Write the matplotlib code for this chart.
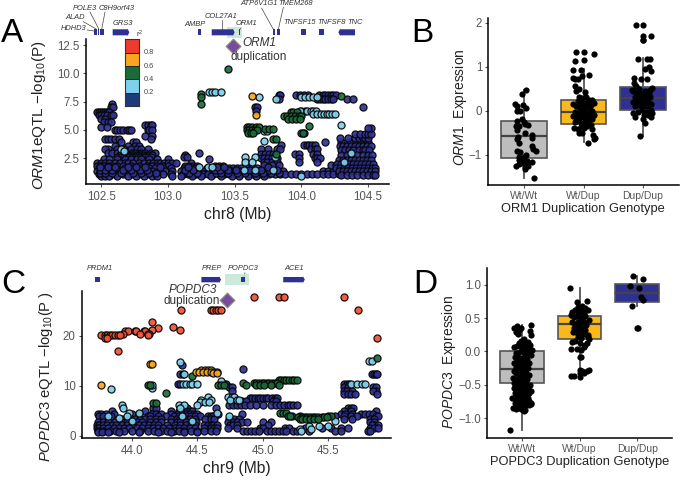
import matplotlib
matplotlib.use('Agg')
import matplotlib.pyplot as plt
from matplotlib.patches import FancyArrow, Rectangle

plt.rcParams['font.family'] = ['Liberation Sans', 'DejaVu Sans']
plt.rcParams['mathtext.fontset'] = 'custom'
plt.rcParams['mathtext.rm'] = 'Liberation Sans'
plt.rcParams['mathtext.it'] = 'Liberation Sans:italic'
plt.rcParams['mathtext.default'] = 'rm'

W, H = 685, 487
NAVY, LBLUE, GREEN, ORANGE, RED = '#2e3192', '#7fd0ec', '#1b6b38', '#f8a61f', '#ee3b2b'
GOLD, GREY = '#f9b91b', '#bdbdbd'
TICK = '#555555'

# ---------- Panel A data: {-log10P : [positions in Mb]} ----------
a_navy = {
 7.25:[102.58], 7.05:[102.57,102.59,103.65,103.67,104.46],
 6.55:[102.47,102.485,102.5,102.515,102.53,102.545,102.56],
 6.3:[102.48,102.5,102.52,102.54,102.57,102.59],
 5.95:[102.5,102.53], 5.7:[102.52,102.55,102.57], 5.25:[102.5,102.54],
 5.4:[102.83,102.85,102.87,102.88],
 5.0:[102.6,102.62,102.64,102.66,102.69,102.71,102.72,102.85,102.86,102.88],
 4.5:[102.83,102.88],
 4.2:[102.53,102.55,102.57,102.6,102.63,102.87],
 3.9:[102.65,102.74,102.76],
 3.61:[102.6,102.7,102.75,102.78],
 3.3:[102.55,102.62,102.67,102.72,102.77,102.8,102.85,102.53],
 3.0:[102.55,102.58,102.62,102.68,102.73,102.75,102.8,102.83,102.87,102.9,103.23],
 2.8:[102.64,102.66,102.68,102.7,102.72,102.74,102.76,102.78,102.8,102.82,102.84,102.86,102.88,103.13],
 2.6:[102.62,102.65,102.67,102.69,102.71,102.73,102.75,102.77,102.79,102.81,102.83,102.85,102.87,103.12,103.14],
 2.4:[102.52,102.56,102.62,102.68,102.72,102.77,102.8,102.86,102.92,103.0,103.31],
 2.1:[102.47,102.5,102.53,102.56,102.6,102.64,102.68,102.7,102.74,102.78,102.82,102.86,102.89,102.92,102.94,102.97,103.0,103.03,103.06,103.17],
 1.85:[102.47,102.49,102.52,102.55,102.58,102.62,102.66,102.72,102.78,102.84,102.88,102.92,102.96,103.0,103.13,103.16,103.19,103.22,103.35,103.38,103.41],
 1.6:[102.48,102.5,102.54,102.57,102.6,102.68,102.74,102.8,102.86,102.9,102.96,103.02,103.12,103.15,103.18,103.2,103.29,103.33,103.36,103.4,103.43,103.46,103.49,103.52,103.55,103.6,103.63,103.67,103.72],
 1.35:[102.47,102.5,102.52,102.55,102.59,102.63,102.7,102.76,102.82,102.88,102.93,102.98,103.03,103.1,103.14,103.17,103.2,103.24,103.27,103.3,103.33,103.37,103.41,103.44,103.47,103.5,103.54,103.58,103.62,103.66,103.7,103.74,103.78,103.82,103.86,104.16,104.2,104.24],
 1.1:[102.48,102.51,102.54,102.57,102.6,102.66,102.72,102.78,102.84,102.9,102.96,103.02,103.11,103.15,103.18,103.21,103.26,103.3,103.34,103.38,103.42,103.46,103.5,103.54,103.6,103.64,103.68,103.72,103.76,103.8,103.84,103.88,103.92,103.96,104.0,104.04,104.08,104.12,104.16,104.2,104.24,104.28],
 0.9:[102.5,102.53,102.56,102.62,102.7,102.76,102.82,102.88,102.92,103.03,103.1,103.18,103.25,103.32,103.4,103.48,103.53,103.6,103.66,103.72],
 8.05:[103.83,103.84,103.96,103.99,104.02,104.05,104.13,104.16,104.18,104.2,104.22,104.24,104.26],
 7.75:[103.83,104.34,104.39,104.12,104.14,104.16,104.18,104.2,104.22,104.24],
 6.7:[103.66,104.0,104.03],
 3.65:[104.02,104.04,104.06,104.08,104.1,103.85],
 3.31:[104.07,104.1,104.12,103.82,103.84,103.7,103.75],
 2.9:[103.7,103.73,103.76,103.79,104.09,104.12,103.95,103.98],
 2.5:[103.7,103.72,103.75,103.78,103.82,103.98,104.1,104.12,104.14],
 2.2:[103.72,103.74,103.78,103.82,103.98,104.12],
 1.9:[103.72,103.78,103.83,104.22,104.26,104.3],
 3.95:[104.18,104.3,104.36,104.42,104.45,104.5],
 4.3:[104.29,104.35,104.4,104.43,104.46,104.48,104.5],
 4.6:[104.4,104.44,104.48,104.5,104.52],
 5.2:[104.52,104.5],
 3.6:[104.29,104.31,104.34,104.37,104.4,104.43,104.46,104.49,104.52],
 3.2:[104.3,104.33,104.36,104.39,104.43,104.46,104.48,104.51],
 2.75:[104.3,104.34,104.38,104.42,104.46,104.5,104.53],
 2.35:[104.28,104.31,104.34,104.37,104.4,104.43,104.46,104.49,104.52],
 2.0:[104.27,104.3,104.33,104.36,104.39,104.42,104.45,104.48,104.51,104.54],
 1.65:[104.26,104.29,104.32,104.35,104.38,104.41,104.44,104.47,104.5,104.53,104.55],
 1.37:[104.28,104.31,104.34,104.37,104.4,104.43,104.46,104.49,104.52,104.55],
 1.05:[104.3,104.34,104.38,104.42,104.46,104.5,104.54,104.55],
 4.75:[104.0,104.02],
 1.22:[102.49,102.53,102.58,102.65,102.74,102.8,102.86,102.91,103.16,103.22,103.36,103.4,103.45,103.52,103.58,103.65,103.71,103.77,103.83],
 1.48:[102.49,102.53,102.58,102.66,102.72,102.79,102.84,103.13,103.19,103.35,103.39,103.45,103.51,103.61,103.7,103.76,103.82],
 1.72:[102.49,102.55,102.6,102.7,102.76,102.83,102.94,103.15,103.37,103.42,103.75],
}
a_lblue = {
 8.35:[103.31,103.33,103.35,103.4],
 7.95:[104.0,104.03,104.06,104.09,104.12,103.68],
 7.7:[103.81],
 6.7:[103.99,104.04,104.07,104.09,104.11],
 6.45:[104.09,104.12,104.15,104.17,104.19,104.21,104.23,104.25],
 5.4:[104.3],
 4.9:[103.72,103.74],
 4.0:[103.72],
 3.35:[102.65],
 2.6:[103.58,103.65,103.8],
 2.2:[103.58,103.63,104.32],
 1.75:[103.23,103.3,103.33],
 1.5:[103.57,103.65,103.79],
 0.9:[104.0],
 3.1:[102.67],
 2.95:[104.37],
}
a_green = {
 10.4:[103.45],
 8.2:[103.25], 7.9:[103.25], 7.3:[103.25],
 8.0:[104.3],
 6.6:[103.92,103.94,103.97],
 6.25:[103.87,103.89,103.92,103.95,103.98,104.0],
 6.0:[103.9,103.93,103.96,103.99],
 5.3:[103.59,103.61,103.63,103.66,103.68],
 5.0:[103.59,103.61,103.63,103.65,103.67],
 4.75:[103.6,103.62,103.64,104.01],
 5.31:[104.06],
 5.1:[103.73,103.76,103.79],
 4.2:[103.79,103.81],
 2.9:[103.81],
}
a_orange = {8.0:[103.63], 6.3:[103.66]}

# ---------- Panel C data ----------
c_navy = {
 14.2:[44.38], 13.4:[44.85], 12.3:[44.37,44.39,45.83,45.85,45.86,45.87],
 10.3:[44.35,44.37,44.68,44.7,44.72,45.62,45.64,45.66],
 9.7:[44.74,44.76,45.62,45.65,45.84,45.86],
 9.0:[44.76,45.62,45.64,45.68,45.86,45.84],
 8.4:[45.62,45.65,45.67,45.7,45.87],
 7.5:[44.9,44.92,44.94,44.96,44.98,45.0,45.02,45.04,45.07,45.09,45.11],
 7.0:[44.78,44.84,44.87,45.08,45.1],
 6.2:[44.74,44.77,44.8,44.83,44.86,44.9,44.95,45.0,45.06,45.1,45.13,45.16,45.19,45.21,45.23,45.26],
 5.5:[44.16,44.18,44.42,44.64,45.65,45.67,45.69],
 5.0:[43.85,44.1,44.3,44.36,44.4,44.42,44.44,44.46,45.62,45.67,45.86],
 4.4:[43.74,43.76,43.8,43.86,44.0,44.05,44.15,44.18,44.22,44.3,44.35,44.38,44.41,44.44,44.47,44.5,44.65,44.66,44.84,45.6,45.63,45.68,45.75,45.78,45.81,45.84],
 3.9:[43.75,43.78,43.84,44.12,44.14,44.2,44.26,44.32,44.36,44.39,44.42,44.45,44.48,44.52,44.58,44.6,44.62,45.22,45.28,45.55,45.62,45.67,45.72,45.86,45.88],
 3.3:[43.92,43.98,44.02,44.06,44.1,44.14,44.18,44.22,44.3,44.34,44.37,44.4,44.44,44.48,44.56,44.6,44.63,44.74,44.78,44.82,45.62,45.68,45.82,45.85],
 2.7:[43.74,43.78,43.82,43.87,43.92,43.96,44.0,44.04,44.08,44.14,44.18,44.22,44.3,44.34,44.37,44.41,44.45,44.49,44.73,44.77,44.8,44.84,44.88,45.0,45.06,45.82,45.85],
 2.1:[43.73,43.75,43.78,43.81,43.85,43.88,43.92,43.96,44.0,44.05,44.09,44.13,44.17,44.2,44.27,44.33,44.37,44.41,44.45,44.48,44.55,44.58,44.6,44.62,44.65,44.75,44.77,44.8,45.04,45.85,45.88,45.83],
 1.5:[43.73,43.75,43.78,43.82,43.86,43.9,43.94,43.98,44.04,44.08,44.12,44.16,44.2,44.24,44.28,44.33,44.36,44.4,44.44,44.48,44.55,44.6,44.63,44.65,44.73,44.8,44.98,45.0,45.17,45.2,45.32,45.45,45.52,45.6,45.65,45.82,45.85,45.88],
 1.0:[43.74,43.78,43.83,43.88,43.94,44.0,44.06,44.12,44.17,44.22,44.27,44.32,44.36,44.4,44.45,44.5,44.55,44.6,44.64,44.85,44.88,44.91,44.94,44.97,45.03,45.06,45.09,45.12,45.15,45.18,45.23,45.26,45.35,45.55,45.6,45.8,45.82],
 0.7:[43.74,43.77,43.82,43.9,44.05,44.2,44.3,44.4,44.5],
}
c_lblue = {
 14.8:[44.365], 14.9:[45.81,45.83],
 9.4:[43.84], 9.6:[44.15], 10.2:[44.15],
 10.4:[44.39,44.41,44.44,44.46,44.5,45.67,45.72,45.76,45.78],
 11.0:[44.68],
 12.3:[44.4],
 7.7:[44.58,44.73,44.76,44.78],
 7.2:[44.53,44.6,44.75,44.8,44.82],
 6.7:[44.52,44.56,44.59],
 6.2:[43.92,44.36,44.4,44.5],
 5.6:[43.93,44.37],
 4.6:[44.65,43.98,44.05],
 4.0:[43.82,43.96,44.74,44.38],
 3.5:[43.9],
 3.0:[44.0,44.46,45.55],
 2.0:[45.35,45.43,45.5],
 1.3:[45.28,45.37],
 0.9:[45.29],
}
c_green = {
 15.5:[45.87], 12.0:[44.46], 10.1:[44.12,44.14,44.66,44.68,44.7],
 8.6:[44.26], 6.5:[44.16,44.18],
 11.2:[45.12,45.14,45.16,45.18,45.2,45.22,45.24,45.26],
 10.6:[44.85,44.93,44.95,44.97,44.99,45.01,45.03,45.05,45.07,45.09,45.11],
 10.2:[44.87,44.95,44.98,45.01,45.06,45.12],
 4.5:[45.13,45.15,45.18],
 4.0:[45.19,45.21,45.5,45.52],
 3.7:[45.27,45.3,45.32,45.34,45.36,45.38,45.4,45.42,45.45,45.47,45.49],
 3.4:[45.28,45.3,45.33,45.36,45.39,45.42],
}
c_orange = {
 10.2:[43.76], 14.3:[44.14,44.15],
 13.1:[44.53,44.56,44.58,44.6],
 12.8:[44.49,44.51,44.54,44.57,44.6,44.63,44.65],
 12.6:[44.62,44.65],
}
c_red = {
 27.7:[44.93,45.12,45.16,45.62],
 25.2:[44.375,44.6,44.62,44.64,44.66,44.68,45.73],
 22.7:[44.15], 21.8:[44.31], 21.6:[44.2], 21.2:[44.37,44.15],
 20.9:[43.95,43.97,44.02,44.03,44.09,44.1],
 20.4:[43.93,44.06,44.12,44.13],
 20.2:[43.76,43.79,43.81,43.83,43.85,43.87,43.89,43.91,44.12],
 19.6:[43.79,43.81,45.87],
 16.9:[43.89],
}

# ---------- Boxplot data ----------
b_stats = [(-1.53,-1.08,-0.57,-0.23,0.48),(-0.72,-0.30,-0.04,0.24,0.95),(-0.57,0.01,0.28,0.53,1.20)]
d_stats = [(-1.18,-0.48,-0.26,0.01,0.40),(-0.38,0.19,0.42,0.54,0.95),(0.68,0.75,0.88,1.02,1.14)]
box_cats = ['Wt/Wt','Wt/Dup','Dup/Dup']
box_fill = [GREY, GOLD, NAVY]

b1_x=[0.97,1.03,0.85,0.88,0.98,1.03,0.89,0.94,1.0,0.88,0.96,1.02,1.06,0.87,0.92,0.89,1.02,1.13,1.14,0.9,0.88,0.91,1.13,1.15,0.93,0.89,1.2,0.92,1.0,1.03,0.99,0.92,1.05,1.03,0.98,1.02,1.13,0.86,0.91,0.94,1.17,1.06,1.02]
b1_y=[0.37,0.48,0.15,0.1,0.12,0.05,0.0,0.0,-0.25,-0.23,-0.2,-0.3,-0.33,-0.35,-0.35,-0.45,-0.5,-0.55,-0.62,-0.6,-0.65,-0.73,-0.8,-0.88,-0.94,-0.92,-0.92,-1.05,-1.05,-1.0,-1.1,-1.12,-1.14,-1.16,-1.2,-1.28,-1.16,-1.25,-1.22,-1.2,-1.54,-1.25,-1.32]
b2_x=[1.88,2.0,2.17,2.0,1.85,1.82,1.95,1.82,2.1,1.86,1.9,1.98,1.85,1.93,1.88,2.03,1.92,1.97,2.05,2.1,2.15,2.18,1.9,1.95,2.0,2.05,2.08,2.12,1.83,1.88,1.93,1.97,2.01,2.05,2.1,2.15,1.85,1.9,1.95,2.0,2.04,2.09,2.13,2.17,1.82,1.88,1.94,1.98,2.02,2.06,2.1,2.14,1.85,1.91,1.95,2.0,2.04,2.08,2.12,1.84,1.9,1.96,2.01,2.06,2.14,1.92,1.98,2.17,2.2,2.07,2.16]
b2_y=[1.34,1.33,1.28,1.15,1.13,0.93,0.92,0.75,0.82,0.72,0.72,0.78,0.55,0.5,0.45,0.42,0.32,0.28,0.3,0.25,0.25,0.18,0.22,0.2,0.18,0.15,0.2,0.12,0.15,0.1,0.08,0.08,0.05,0.1,0.05,0.0,-0.03,-0.05,0.0,-0.02,-0.05,-0.08,-0.05,-0.1,-0.12,-0.15,-0.15,-0.12,-0.18,-0.16,-0.2,-0.2,-0.25,-0.22,-0.28,-0.3,-0.28,-0.26,-0.33,-0.4,-0.42,-0.38,-0.4,-0.35,-0.42,-0.5,-0.5,-0.65,-0.62,-0.73,-0.55]
b3_x=[2.88,3.0,3.0,3.0,3.13,3.0,3.12,2.92,3.07,3.03,3.1,3.07,3.13,2.85,2.85,2.97,2.82,2.88,2.93,3.03,3.07,3.12,2.84,2.9,2.95,2.99,3.04,3.1,3.15,2.86,2.92,2.96,3.0,3.05,3.11,2.83,2.9,2.97,3.03,3.09,3.13,2.87,2.93,3.0,3.06,3.14,2.84,2.92,2.98,3.07,3.15,2.86,3.01,3.09,3.13,3.03,2.95,3.0]
b3_y=[1.94,1.94,1.7,1.6,1.7,1.6,1.18,1.18,1.18,0.95,1.0,0.73,0.9,0.74,0.62,0.73,0.48,0.55,0.5,0.45,0.42,0.48,0.45,0.4,0.38,0.36,0.35,0.4,0.52,0.3,0.3,0.28,0.3,0.25,0.3,0.2,0.22,0.2,0.18,0.2,0.15,0.1,0.12,0.1,0.1,0.02,-0.05,-0.02,0.02,-0.02,-0.05,-0.15,-0.1,-0.1,-0.15,-0.28,-0.58,-0.18]
d1_x=[0.92,0.95,0.98,1.15,0.87,0.9,0.93,1.14,1.16,1.04,0.95,0.98,1.06,1.1,1.14,0.86,0.91,0.95,1.0,1.04,1.08,1.13,1.18,0.9,0.94,0.99,1.03,1.07,1.12,1.16,0.88,0.93,0.97,1.01,1.05,1.09,0.87,0.92,0.96,1.0,1.04,1.08,1.13,0.89,0.94,0.98,1.02,1.06,1.1,0.86,0.9,0.95,0.99,1.03,1.07,1.12,0.85,0.88,0.93,0.97,1.01,1.05,1.09,0.87,0.91,0.96,1.0,1.04,1.08,1.14,0.86,0.9,0.94,0.98,1.02,1.06,1.1,0.88,0.93,0.97,1.01,1.05,1.12,1.15,0.91,0.96,1.0,1.06,1.11,0.86,0.95,1.04,1.13,0.88,1.07,1.16,1.0,0.93,1.03,1.08,1.15,0.92,0.98,0.85,1.05,1.13,0.97,1.09,0.9,0.95,0.83,1.03,0.8]
d1_y=[0.39,0.32,0.36,0.4,0.35,0.3,0.26,0.31,0.25,0.19,0.13,0.15,0.12,0.14,0.1,0.06,0.08,0.1,0.05,0.08,0.03,0.05,0.02,-0.03,-0.02,0.0,-0.03,-0.05,-0.02,-0.06,-0.08,-0.1,-0.1,-0.12,-0.08,-0.12,-0.17,-0.15,-0.18,-0.2,-0.16,-0.2,-0.18,-0.24,-0.25,-0.28,-0.25,-0.3,-0.25,-0.3,-0.32,-0.35,-0.33,-0.38,-0.33,-0.36,-0.4,-0.42,-0.42,-0.44,-0.4,-0.45,-0.42,-0.48,-0.5,-0.5,-0.47,-0.52,-0.48,-0.5,-0.55,-0.58,-0.55,-0.58,-0.56,-0.6,-0.55,-0.63,-0.66,-0.62,-0.65,-0.62,-0.62,-0.6,-0.7,-0.72,-0.74,-0.7,-0.7,-0.7,-0.78,-0.78,-0.75,-0.78,-0.76,-0.78,-0.8,-0.82,-0.82,-0.8,-0.79,-0.85,-0.87,-0.85,-0.88,-0.8,-0.84,-0.78,-0.86,-0.84,-0.7,-0.89,-1.18]
d2_x=[1.84,1.95,2.13,2.05,2.1,1.98,2.0,1.87,1.92,1.97,2.03,2.08,2.15,1.85,1.9,1.95,2.0,2.05,2.1,2.17,1.87,1.93,1.98,2.03,2.07,2.12,1.9,1.95,2.0,2.05,2.1,1.88,1.94,1.98,2.03,2.08,2.14,1.97,2.02,2.14,2.16,1.87,1.92,2.0,2.13,1.85,1.95,2.1,2.03,2.07,2.0,2.02,2.0,2.04,2.13,2.17,2.08,1.9,1.86,2.0,2.0]
d2_y=[0.96,0.74,0.76,0.68,0.66,0.67,0.65,0.6,0.62,0.6,0.6,0.58,0.62,0.55,0.52,0.53,0.5,0.5,0.53,0.48,0.45,0.42,0.45,0.42,0.44,0.4,0.35,0.38,0.36,0.35,0.33,0.3,0.3,0.27,0.28,0.26,0.25,0.22,0.2,0.22,0.18,0.14,0.16,0.13,0.12,0.04,0.04,0.1,0.02,0.06,-0.08,-0.08,-0.28,-0.3,-0.3,-0.28,-0.33,-0.37,-0.37,-0.33,-0.38]
d3_x=[2.93,3.1,2.88,3.03,3.07,3.1,2.91,2.99,3.01]
d3_y=[1.13,1.09,0.98,0.95,0.82,0.77,0.68,0.35,0.35]

# ---------- Gene tracks ----------
a_genes = [('HDHD3',102.445,102.457,0),('ALAD',102.463,102.47,0),('POLE3',102.477,102.483,0),('C8H9orf43',102.49,102.52,0),
 ('GRS3',102.585,102.71,1),('AMBP',103.222,103.25,0),('COL27A1',103.328,103.5,1),('ORM1',103.53,103.537,0),
 ('ATP6V1G1',103.787,103.803,0),('TMEM268',103.815,103.843,0),('TNFSF15',103.995,104.033,0),('TNFSF8',104.135,104.172,0),('TNC',104.278,104.403,-1)]
c_genes = [('PRDM1',43.717,43.755,0),('PREP',44.53,44.68,1),('POPDC3',44.835,44.86,0),('ACE1',45.155,45.32,1)]

a_xticks=[102.5,103.0,103.5,104.0,104.5]; a_yticks=[2.5,5.0,7.5,10.0,12.5]
c_xticks=[44.0,44.5,45.0,45.5]; c_yticks=[0,10,20]

fig = plt.figure(figsize=(W/100, H/100), dpi=100)

def mkax(x0, y0, x1, y1):
    """pixel box (top-left origin)"""
    return fig.add_axes([x0/W, 1-y1/H, (x1-x0)/W, (y1-y0)/H])

def zp(zx, zy, ox=0, oy=0):
    """zoom-image coordinates to figure fraction"""
    return ((ox+zx/3)/W, 1-(oy+zy/3)/H)

def style(ax):
    ax.spines[['top','right']].set_visible(False)
    ax.spines[['left','bottom']].set_linewidth(1.1)
    ax.tick_params(colors=TICK, labelsize=8.3, length=2.5, width=0.8, pad=2)

def scat(ax, rows, color):
    xs, ys = [], []
    for y, row in rows.items():
        for x in row:
            xs.append(x); ys.append(y)
    ax.scatter(xs, ys, s=26, c=color, edgecolors='#050505', linewidths=0.9, zorder=3, alpha=0.92, clip_on=False)

def track(box, xlim, genes, hl, lo, hi):
    t = mkax(*box); t.set_xlim(*xlim); t.set_ylim(0, 1); t.axis('off')
    t.axvspan(hl[0], hl[1], color='#bfe5d0', alpha=0.8, lw=0)
    span = xlim[1]-xlim[0]
    for name, s, e, d in genes:
        if d == 0:
            t.add_patch(Rectangle((s, lo), e-s, hi-lo, color='#2e3192', lw=0, zorder=3))
        else:
            head = 0.006*span
            start, dx = (s, e-s-head) if d > 0 else (e, s-e+head)
            t.add_patch(FancyArrow(start, (lo+hi)/2, dx, 0, width=hi-lo, head_width=(hi-lo)*1.25, head_length=head,
                                   length_includes_head=False, color='#2e3192', lw=0, zorder=3))
    return t

# ---------- Panel A ----------
track((86, 27.3, 389.3, 38.3), (102.385,104.66), a_genes, (103.445,103.553), 0.27, 0.82)
ax = mkax(86, 39, 389.3, 184.3)
ax.patch.set_alpha(0)
ax.set_xlim(102.385, 104.66); ax.set_ylim(0.2, 13.03)
for rows, col in [(a_navy,NAVY),(a_lblue,LBLUE),(a_green,GREEN),(a_orange,ORANGE)]:
    scat(ax, rows, col)
ax.scatter([103.485],[12.44],marker='D',s=55,c='#7b4a9e',edgecolors='#888888',linewidths=0.9,zorder=5,clip_on=False)
style(ax)
ax.set_xticks(a_xticks); ax.set_xticklabels(['102.5','103.0','103.5','104.0','104.5'])
ax.set_yticks(a_yticks); ax.set_yticklabels(['2.5','5.0','7.5','10.0','12.5'])
fig.text(*zp(712,645), 'chr8 (Mb)', fontsize=11.3, ha='center', va='center', color='#222222')
fig.text(*zp(118,345), r'$\mathit{ORM1}$eQTL $-$log$_{10}$(P)', fontsize=11, rotation=90, ha='center', va='center', color='#222222')
fig.text(*zp(728,128), 'ORM1', fontsize=8.5, style='italic', ha='left', va='center', color='#333333')
fig.text(*zp(776,170), 'duplication', fontsize=8.5, ha='center', va='center', color='#333333')

gl = [('POLE3',253,24),('C8H9orf43',350,24),('ALAD',225,53),('HDHD3',221,87),('GRS3',367,70),('AMBP',585,72),
      ('COL27A1',664,49),('ORM1',738,70),('ATP6V1G1',778,10),('TMEM268',887,10),('TNFSF15',898,67),('TNFSF8',994,67),('TNC',1066,67)]
for n, zx, zy in gl:
    fig.text(*zp(zx,zy), n, fontsize=5.4, style='italic', ha='center', va='center', color='#333333')
ov = fig.add_axes([0,0,1,1]); ov.set_xlim(0,1); ov.set_ylim(0,1); ov.axis('off'); ov.patch.set_alpha(0)
def conn(a, b, ox=0, oy=0):
    p, q = zp(*a, ox, oy), zp(*b, ox, oy)
    ov.plot([p[0],q[0]],[p[1],q[1]],color='#444444',lw=0.5)
for a, b in [((270,36),(297,88)),((250,65),(290,88)),((262,90),(281,93)),((315,36),(305,88)),
             ((667,60),(667,90)),((722,85),(717,92)),((785,25),(820,88)),((850,22),(835,88))]:
    conn(a, b)

# r2 legend
lg = mkax(125, 39.3, 139.3, 106)
lg.set_xlim(0,1); lg.set_ylim(0,1); lg.set_xticks([]); lg.set_yticks([])
for i, c in enumerate(['#1f3a78',LBLUE,GREEN,ORANGE,RED]):
    lg.add_patch(Rectangle((0,i/5),1,0.2,facecolor=c,edgecolor='#222222',lw=0.7))
for s in lg.spines.values(): s.set_linewidth(0.8); s.set_color('#333333')
for lab, zy in [('0.8',158),('0.6',198),('0.4',238),('0.2',278)]:
    fig.text(*zp(430,zy), lab, fontsize=5.3, ha='left', va='center', color='#444444')
fig.text(*zp(419,102), r'r$^2$', fontsize=5.5, ha='center', va='center', color='#333333')

# ---------- Panel C ----------
track((82, 274.3, 390.7, 285), (43.618,45.976), c_genes, (44.71,44.89), 0.25, 0.75)
ax = mkax(82, 290.7, 390.7, 438.3)
ax.patch.set_alpha(0)
ax.set_xlim(43.618, 45.976); ax.set_ylim(-0.46, 28.97)
for rows, col in [(c_navy,NAVY),(c_lblue,LBLUE),(c_green,GREEN),(c_orange,ORANGE),(c_red,'#ef5236')]:
    scat(ax, rows, col)
ax.scatter([44.728],[27.1],marker='D',s=55,c='#7b4a9e',edgecolors='#888888',linewidths=0.9,zorder=5,clip_on=False)
style(ax)
ax.set_xticks(c_xticks); ax.set_xticklabels(['44.0','44.5','45.0','45.5'])
ax.set_yticks(c_yticks)
fig.text(*zp(710,655,0,250), 'chr9 (Mb)', fontsize=11.3, ha='center', va='center', color='#222222')
fig.text(*zp(138,378,0,250), r'$\mathit{POPDC3}$ eQTL $-$log$_{10}$(P )', fontsize=10.6, rotation=90, ha='center', va='center', color='#222222')
fig.text(*zp(577,120,0,250), 'POPDC3', fontsize=8.5, style='italic', ha='center', va='center', color='#333333')
fig.text(*zp(576,152,0,250), 'duplication', fontsize=8.5, ha='center', va='center', color='#333333')
for n, zx in [('PRDM1',300),('PREP',637),('POPDC3',729),('ACE1',881)]:
    fig.text(*zp(zx,55,0,250), n, fontsize=5.4, style='italic', ha='center', va='center', color='#333333')
conn((735,68),(732,82),0,250)

# ---------- Box panels ----------
def boxpanel(box, ylim, yticks, ylabels, stats, jit, xlab_z, ylab_z, ylabel, xlabel, oy):
    ax = mkax(*box)
    bxs = [dict(med=s[2], q1=s[1], q3=s[3], whislo=s[0], whishi=s[4], fliers=[]) for s in stats]
    parts = ax.bxp(bxs, positions=[1,2,3], widths=0.76, patch_artist=True, showcaps=False, showfliers=False,
                   medianprops=dict(color='#444444', lw=1.6), whiskerprops=dict(color='#555555', lw=1.3),
                   boxprops=dict(edgecolor='#555555', lw=1.2))
    for p, c in zip(parts['boxes'], box_fill):
        p.set_facecolor(c)
    for x, y in jit:
        ax.scatter(x, y, s=20, c='black', linewidths=0, zorder=4, clip_on=False)
    ax.set_xlim(0.4, 3.6); ax.set_ylim(*ylim)
    style(ax)
    ax.set_xticks([1,2,3]); ax.set_xticklabels(box_cats, fontsize=7.5)
    ax.set_yticks(yticks); ax.set_yticklabels(ylabels)
    fig.text(*zp(*xlab_z,400,oy), xlabel, fontsize=9.3, ha='center', va='center', color='#222222')
    fig.text(*zp(*ylab_z,400,oy), ylabel, fontsize=10, rotation=90, ha='center', va='center', color='#222222')

boxpanel((488.3,18.3,678.7,185),(-1.689,2.1),[-1,0,1,2],['\u22121','0','1','2'],b_stats,
         [(b1_x,b1_y),(b2_x,b2_y),(b3_x,b3_y)],(550,628),(180,322),r'$\mathit{ORM1}$  Expression','ORM1 Duplication Genotype',0)
boxpanel((487.3,268.3,671.7,437.7),(-1.296,1.25),[-1,-0.5,0,0.5,1],['\u22121.0','\u22120.5','0.0','0.5','1.0'],d_stats,
         [(d1_x,d1_y),(d2_x,d2_y),(d3_x,d3_y)],(538,637),(148,335),r'$\mathit{POPDC3}$  Expression','POPDC3 Duplication Genotype',250)

# ---------- Panel letters ----------
for l, px, py in [('A',1,42),('B',411,42),('C',1,293),('D',413,293)]:
    fig.text(px/W, 1-py/H, l, fontsize=24, ha='left', va='baseline', color='black')

fig.savefig('out.png', dpi=100)
